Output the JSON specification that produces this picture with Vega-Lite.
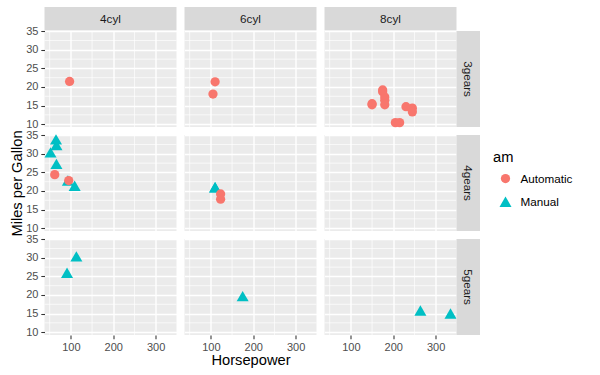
{
  "$schema": "https://vega.github.io/schema/vega-lite/v6.json",
  "padding": {"left": 8.5, "top": 7, "right": 5, "bottom": 5},
  "background": "white",
  "datasets": {
    "cars": [
      {"name": "Mazda RX4", "hp": 110, "mpg": 21.0, "cyl": 6, "gear": 4, "am": "Manual"},
      {"name": "Mazda RX4 Wag", "hp": 110, "mpg": 21.0, "cyl": 6, "gear": 4, "am": "Manual"},
      {"name": "Datsun 710", "hp": 93, "mpg": 22.8, "cyl": 4, "gear": 4, "am": "Manual"},
      {"name": "Hornet 4 Drive", "hp": 110, "mpg": 21.4, "cyl": 6, "gear": 3, "am": "Automatic"},
      {"name": "Hornet Sportabout", "hp": 175, "mpg": 18.7, "cyl": 8, "gear": 3, "am": "Automatic"},
      {"name": "Valiant", "hp": 105, "mpg": 18.1, "cyl": 6, "gear": 3, "am": "Automatic"},
      {"name": "Duster 360", "hp": 245, "mpg": 14.3, "cyl": 8, "gear": 3, "am": "Automatic"},
      {"name": "Merc 240D", "hp": 62, "mpg": 24.4, "cyl": 4, "gear": 4, "am": "Automatic"},
      {"name": "Merc 230", "hp": 95, "mpg": 22.8, "cyl": 4, "gear": 4, "am": "Automatic"},
      {"name": "Merc 280", "hp": 123, "mpg": 19.2, "cyl": 6, "gear": 4, "am": "Automatic"},
      {"name": "Merc 280C", "hp": 123, "mpg": 17.8, "cyl": 6, "gear": 4, "am": "Automatic"},
      {"name": "Merc 450SE", "hp": 180, "mpg": 16.4, "cyl": 8, "gear": 3, "am": "Automatic"},
      {"name": "Merc 450SL", "hp": 180, "mpg": 17.3, "cyl": 8, "gear": 3, "am": "Automatic"},
      {"name": "Merc 450SLC", "hp": 180, "mpg": 15.2, "cyl": 8, "gear": 3, "am": "Automatic"},
      {"name": "Cadillac Fleetwood", "hp": 205, "mpg": 10.4, "cyl": 8, "gear": 3, "am": "Automatic"},
      {"name": "Lincoln Continental", "hp": 215, "mpg": 10.4, "cyl": 8, "gear": 3, "am": "Automatic"},
      {"name": "Chrysler Imperial", "hp": 230, "mpg": 14.7, "cyl": 8, "gear": 3, "am": "Automatic"},
      {"name": "Fiat 128", "hp": 66, "mpg": 32.4, "cyl": 4, "gear": 4, "am": "Manual"},
      {"name": "Honda Civic", "hp": 52, "mpg": 30.4, "cyl": 4, "gear": 4, "am": "Manual"},
      {"name": "Toyota Corolla", "hp": 65, "mpg": 33.9, "cyl": 4, "gear": 4, "am": "Manual"},
      {"name": "Toyota Corona", "hp": 97, "mpg": 21.5, "cyl": 4, "gear": 3, "am": "Automatic"},
      {"name": "Dodge Challenger", "hp": 150, "mpg": 15.5, "cyl": 8, "gear": 3, "am": "Automatic"},
      {"name": "AMC Javelin", "hp": 150, "mpg": 15.2, "cyl": 8, "gear": 3, "am": "Automatic"},
      {"name": "Camaro Z28", "hp": 245, "mpg": 13.3, "cyl": 8, "gear": 3, "am": "Automatic"},
      {"name": "Pontiac Firebird", "hp": 175, "mpg": 19.2, "cyl": 8, "gear": 3, "am": "Automatic"},
      {"name": "Fiat X1-9", "hp": 66, "mpg": 27.3, "cyl": 4, "gear": 4, "am": "Manual"},
      {"name": "Porsche 914-2", "hp": 91, "mpg": 26.0, "cyl": 4, "gear": 5, "am": "Manual"},
      {"name": "Lotus Europa", "hp": 113, "mpg": 30.4, "cyl": 4, "gear": 5, "am": "Manual"},
      {"name": "Ford Pantera L", "hp": 264, "mpg": 15.8, "cyl": 8, "gear": 5, "am": "Manual"},
      {"name": "Ferrari Dino", "hp": 175, "mpg": 19.7, "cyl": 6, "gear": 5, "am": "Manual"},
      {"name": "Maserati Bora", "hp": 335, "mpg": 15.0, "cyl": 8, "gear": 5, "am": "Manual"},
      {"name": "Volvo 142E", "hp": 109, "mpg": 21.4, "cyl": 4, "gear": 4, "am": "Manual"}
    ],
    "xminor": [{"hp": 50}, {"hp": 150}, {"hp": 250}],
    "yminor": [{"mpg": 12.5}, {"mpg": 17.5}, {"mpg": 22.5}, {"mpg": 27.5}, {"mpg": 32.5}]
  },
  "columns": 6,
  "spacing": 0,
  "align": "each",
  "bounds": "flush",
  "concat": [
    {"width": 132, "height": 23.5, "data": {"values": [{"lab": "4cyl"}]}, "mark": {"type": "text", "fontSize": 11.7, "color": "#1A1A1A", "baseline": "middle", "align": "center"}, "encoding": {"text": {"field": "lab"}}, "view": {"fill": "#D9D9D9"}},
    {"width": 7.33, "height": 1, "data": {"values": []}, "mark": "point", "view": {"fill": "transparent"}},
    {"width": 132, "height": 23.5, "data": {"values": [{"lab": "6cyl"}]}, "mark": {"type": "text", "fontSize": 11.7, "color": "#1A1A1A", "baseline": "middle", "align": "center"}, "encoding": {"text": {"field": "lab"}}, "view": {"fill": "#D9D9D9"}},
    {"width": 7.33, "height": 1, "data": {"values": []}, "mark": "point", "view": {"fill": "transparent"}},
    {"width": 132, "height": 23.5, "data": {"values": [{"lab": "8cyl"}]}, "mark": {"type": "text", "fontSize": 11.7, "color": "#1A1A1A", "baseline": "middle", "align": "center"}, "encoding": {"text": {"field": "lab"}}, "view": {"fill": "#D9D9D9"}},
    {"width": 1, "height": 1, "data": {"values": []}, "mark": "point", "view": {"fill": "transparent"}},

    {"width": 132, "height": 96, "layer": [
      {"data": {"name": "xminor"}, "mark": {"type": "rule", "color": "white", "strokeWidth": 0.7}, "encoding": {"x": {"field": "hp", "type": "quantitative", "scale": {"domain": [37.85, 349.15], "nice": false, "zero": false}, "axis": {"values": [100, 200, 300], "labels": false, "ticks": false, "title": null}}}},
      {"data": {"name": "yminor"}, "mark": {"type": "rule", "color": "white", "strokeWidth": 0.7}, "encoding": {"y": {"field": "mpg", "type": "quantitative", "scale": {"domain": [9.225, 35.075], "nice": false, "zero": false}, "axis": {"values": [10, 15, 20, 25, 30, 35], "title": null}}}},
      {"data": {"name": "cars"}, "transform": [{"filter": "datum.cyl == 4 && datum.gear == 3"}], "mark": {"type": "point", "filled": true, "opacity": 1}, "encoding": {
        "x": {"field": "hp", "type": "quantitative", "scale": {"domain": [37.85, 349.15], "nice": false, "zero": false}, "axis": {"values": [100, 200, 300], "labels": false, "ticks": false, "title": null}},
        "y": {"field": "mpg", "type": "quantitative", "scale": {"domain": [9.225, 35.075], "nice": false, "zero": false}, "axis": {"values": [10, 15, 20, 25, 30, 35], "title": null}},
        "color": {"field": "am", "type": "nominal", "title": "am", "scale": {"domain": ["Automatic", "Manual"], "range": ["#F8766D", "#00BFC4"]}, "legend": {"orient": "none", "legendX": 448.5, "legendY": 143, "symbolOffset": 5.5, "labelOffset": 8, "rowPadding": 9, "titlePadding": 8}},
        "shape": {"field": "am", "type": "nominal", "title": "am", "scale": {"domain": ["Automatic", "Manual"], "range": ["circle", "triangle-up"]}, "legend": {"orient": "none", "legendX": 448.5, "legendY": 143, "symbolOffset": 5.5, "labelOffset": 8, "rowPadding": 9, "titlePadding": 8}},
        "size": {"field": "am", "type": "nominal", "title": "am", "scale": {"domain": ["Automatic", "Manual"], "range": [86, 145]}, "legend": {"orient": "none", "legendX": 448.5, "legendY": 143, "symbolOffset": 5.5, "labelOffset": 8, "rowPadding": 9, "titlePadding": 8}}
      }}
    ]},
    {"width": 7.33, "height": 1, "data": {"values": []}, "mark": "point", "view": {"fill": "transparent"}},
    {"width": 132, "height": 96, "layer": [
      {"data": {"name": "xminor"}, "mark": {"type": "rule", "color": "white", "strokeWidth": 0.7}, "encoding": {"x": {"field": "hp", "type": "quantitative", "scale": {"domain": [37.85, 349.15], "nice": false, "zero": false}, "axis": {"values": [100, 200, 300], "labels": false, "ticks": false, "title": null}}}},
      {"data": {"name": "yminor"}, "mark": {"type": "rule", "color": "white", "strokeWidth": 0.7}, "encoding": {"y": {"field": "mpg", "type": "quantitative", "scale": {"domain": [9.225, 35.075], "nice": false, "zero": false}, "axis": {"values": [10, 15, 20, 25, 30, 35], "labels": false, "ticks": false, "title": null}}}},
      {"data": {"name": "cars"}, "transform": [{"filter": "datum.cyl == 6 && datum.gear == 3"}], "mark": {"type": "point", "filled": true, "opacity": 1}, "encoding": {
        "x": {"field": "hp", "type": "quantitative", "scale": {"domain": [37.85, 349.15], "nice": false, "zero": false}, "axis": {"values": [100, 200, 300], "labels": false, "ticks": false, "title": null}},
        "y": {"field": "mpg", "type": "quantitative", "scale": {"domain": [9.225, 35.075], "nice": false, "zero": false}, "axis": {"values": [10, 15, 20, 25, 30, 35], "labels": false, "ticks": false, "title": null}},
        "color": {"field": "am", "type": "nominal", "title": "am", "scale": {"domain": ["Automatic", "Manual"], "range": ["#F8766D", "#00BFC4"]}, "legend": {"orient": "none", "legendX": 448.5, "legendY": 143, "symbolOffset": 5.5, "labelOffset": 8, "rowPadding": 9, "titlePadding": 8}},
        "shape": {"field": "am", "type": "nominal", "title": "am", "scale": {"domain": ["Automatic", "Manual"], "range": ["circle", "triangle-up"]}, "legend": {"orient": "none", "legendX": 448.5, "legendY": 143, "symbolOffset": 5.5, "labelOffset": 8, "rowPadding": 9, "titlePadding": 8}},
        "size": {"field": "am", "type": "nominal", "title": "am", "scale": {"domain": ["Automatic", "Manual"], "range": [86, 145]}, "legend": {"orient": "none", "legendX": 448.5, "legendY": 143, "symbolOffset": 5.5, "labelOffset": 8, "rowPadding": 9, "titlePadding": 8}}
      }}
    ]},
    {"width": 7.33, "height": 1, "data": {"values": []}, "mark": "point", "view": {"fill": "transparent"}},
    {"width": 132, "height": 96, "layer": [
      {"data": {"name": "xminor"}, "mark": {"type": "rule", "color": "white", "strokeWidth": 0.7}, "encoding": {"x": {"field": "hp", "type": "quantitative", "scale": {"domain": [37.85, 349.15], "nice": false, "zero": false}, "axis": {"values": [100, 200, 300], "labels": false, "ticks": false, "title": null}}}},
      {"data": {"name": "yminor"}, "mark": {"type": "rule", "color": "white", "strokeWidth": 0.7}, "encoding": {"y": {"field": "mpg", "type": "quantitative", "scale": {"domain": [9.225, 35.075], "nice": false, "zero": false}, "axis": {"values": [10, 15, 20, 25, 30, 35], "labels": false, "ticks": false, "title": null}}}},
      {"data": {"name": "cars"}, "transform": [{"filter": "datum.cyl == 8 && datum.gear == 3"}], "mark": {"type": "point", "filled": true, "opacity": 1}, "encoding": {
        "x": {"field": "hp", "type": "quantitative", "scale": {"domain": [37.85, 349.15], "nice": false, "zero": false}, "axis": {"values": [100, 200, 300], "labels": false, "ticks": false, "title": null}},
        "y": {"field": "mpg", "type": "quantitative", "scale": {"domain": [9.225, 35.075], "nice": false, "zero": false}, "axis": {"values": [10, 15, 20, 25, 30, 35], "labels": false, "ticks": false, "title": null}},
        "color": {"field": "am", "type": "nominal", "title": "am", "scale": {"domain": ["Automatic", "Manual"], "range": ["#F8766D", "#00BFC4"]}, "legend": {"orient": "none", "legendX": 448.5, "legendY": 143, "symbolOffset": 5.5, "labelOffset": 8, "rowPadding": 9, "titlePadding": 8}},
        "shape": {"field": "am", "type": "nominal", "title": "am", "scale": {"domain": ["Automatic", "Manual"], "range": ["circle", "triangle-up"]}, "legend": {"orient": "none", "legendX": 448.5, "legendY": 143, "symbolOffset": 5.5, "labelOffset": 8, "rowPadding": 9, "titlePadding": 8}},
        "size": {"field": "am", "type": "nominal", "title": "am", "scale": {"domain": ["Automatic", "Manual"], "range": [86, 145]}, "legend": {"orient": "none", "legendX": 448.5, "legendY": 143, "symbolOffset": 5.5, "labelOffset": 8, "rowPadding": 9, "titlePadding": 8}}
      }}
    ]},
    {"width": 23.5, "height": 96, "data": {"values": [{"lab": "3gears"}]}, "mark": {"type": "text", "fontSize": 11.7, "color": "#1A1A1A", "baseline": "middle", "align": "center", "angle": 90}, "encoding": {"text": {"field": "lab"}}, "view": {"fill": "#D9D9D9"}},

    {"width": 1, "height": 7.33, "data": {"values": []}, "mark": "point", "view": {"fill": "transparent"}},
    {"width": 1, "height": 7.33, "data": {"values": []}, "mark": "point", "view": {"fill": "transparent"}},
    {"width": 1, "height": 7.33, "data": {"values": []}, "mark": "point", "view": {"fill": "transparent"}},
    {"width": 1, "height": 7.33, "data": {"values": []}, "mark": "point", "view": {"fill": "transparent"}},
    {"width": 1, "height": 7.33, "data": {"values": []}, "mark": "point", "view": {"fill": "transparent"}},
    {"width": 1, "height": 7.33, "data": {"values": []}, "mark": "point", "view": {"fill": "transparent"}},

    {"width": 132, "height": 96, "layer": [
      {"data": {"name": "xminor"}, "mark": {"type": "rule", "color": "white", "strokeWidth": 0.7}, "encoding": {"x": {"field": "hp", "type": "quantitative", "scale": {"domain": [37.85, 349.15], "nice": false, "zero": false}, "axis": {"values": [100, 200, 300], "labels": false, "ticks": false, "title": null}}}},
      {"data": {"name": "yminor"}, "mark": {"type": "rule", "color": "white", "strokeWidth": 0.7}, "encoding": {"y": {"field": "mpg", "type": "quantitative", "scale": {"domain": [9.225, 35.075], "nice": false, "zero": false}, "axis": {"values": [10, 15, 20, 25, 30, 35], "title": "Miles per Gallon", "titlePadding": 1.2}}}},
      {"data": {"name": "cars"}, "transform": [{"filter": "datum.cyl == 4 && datum.gear == 4"}], "mark": {"type": "point", "filled": true, "opacity": 1}, "encoding": {
        "x": {"field": "hp", "type": "quantitative", "scale": {"domain": [37.85, 349.15], "nice": false, "zero": false}, "axis": {"values": [100, 200, 300], "labels": false, "ticks": false, "title": null}},
        "y": {"field": "mpg", "type": "quantitative", "scale": {"domain": [9.225, 35.075], "nice": false, "zero": false}, "axis": {"values": [10, 15, 20, 25, 30, 35], "title": "Miles per Gallon", "titlePadding": 1.2}},
        "color": {"field": "am", "type": "nominal", "title": "am", "scale": {"domain": ["Automatic", "Manual"], "range": ["#F8766D", "#00BFC4"]}, "legend": {"orient": "none", "legendX": 448.5, "legendY": 143, "symbolOffset": 5.5, "labelOffset": 8, "rowPadding": 9, "titlePadding": 8}},
        "shape": {"field": "am", "type": "nominal", "title": "am", "scale": {"domain": ["Automatic", "Manual"], "range": ["circle", "triangle-up"]}, "legend": {"orient": "none", "legendX": 448.5, "legendY": 143, "symbolOffset": 5.5, "labelOffset": 8, "rowPadding": 9, "titlePadding": 8}},
        "size": {"field": "am", "type": "nominal", "title": "am", "scale": {"domain": ["Automatic", "Manual"], "range": [86, 145]}, "legend": {"orient": "none", "legendX": 448.5, "legendY": 143, "symbolOffset": 5.5, "labelOffset": 8, "rowPadding": 9, "titlePadding": 8}}
      }}
    ]},
    {"width": 7.33, "height": 1, "data": {"values": []}, "mark": "point", "view": {"fill": "transparent"}},
    {"width": 132, "height": 96, "layer": [
      {"data": {"name": "xminor"}, "mark": {"type": "rule", "color": "white", "strokeWidth": 0.7}, "encoding": {"x": {"field": "hp", "type": "quantitative", "scale": {"domain": [37.85, 349.15], "nice": false, "zero": false}, "axis": {"values": [100, 200, 300], "labels": false, "ticks": false, "title": null}}}},
      {"data": {"name": "yminor"}, "mark": {"type": "rule", "color": "white", "strokeWidth": 0.7}, "encoding": {"y": {"field": "mpg", "type": "quantitative", "scale": {"domain": [9.225, 35.075], "nice": false, "zero": false}, "axis": {"values": [10, 15, 20, 25, 30, 35], "labels": false, "ticks": false, "title": null}}}},
      {"data": {"name": "cars"}, "transform": [{"filter": "datum.cyl == 6 && datum.gear == 4"}], "mark": {"type": "point", "filled": true, "opacity": 1}, "encoding": {
        "x": {"field": "hp", "type": "quantitative", "scale": {"domain": [37.85, 349.15], "nice": false, "zero": false}, "axis": {"values": [100, 200, 300], "labels": false, "ticks": false, "title": null}},
        "y": {"field": "mpg", "type": "quantitative", "scale": {"domain": [9.225, 35.075], "nice": false, "zero": false}, "axis": {"values": [10, 15, 20, 25, 30, 35], "labels": false, "ticks": false, "title": null}},
        "color": {"field": "am", "type": "nominal", "title": "am", "scale": {"domain": ["Automatic", "Manual"], "range": ["#F8766D", "#00BFC4"]}, "legend": {"orient": "none", "legendX": 448.5, "legendY": 143, "symbolOffset": 5.5, "labelOffset": 8, "rowPadding": 9, "titlePadding": 8}},
        "shape": {"field": "am", "type": "nominal", "title": "am", "scale": {"domain": ["Automatic", "Manual"], "range": ["circle", "triangle-up"]}, "legend": {"orient": "none", "legendX": 448.5, "legendY": 143, "symbolOffset": 5.5, "labelOffset": 8, "rowPadding": 9, "titlePadding": 8}},
        "size": {"field": "am", "type": "nominal", "title": "am", "scale": {"domain": ["Automatic", "Manual"], "range": [86, 145]}, "legend": {"orient": "none", "legendX": 448.5, "legendY": 143, "symbolOffset": 5.5, "labelOffset": 8, "rowPadding": 9, "titlePadding": 8}}
      }}
    ]},
    {"width": 7.33, "height": 1, "data": {"values": []}, "mark": "point", "view": {"fill": "transparent"}},
    {"width": 132, "height": 96, "layer": [
      {"data": {"name": "xminor"}, "mark": {"type": "rule", "color": "white", "strokeWidth": 0.7}, "encoding": {"x": {"field": "hp", "type": "quantitative", "scale": {"domain": [37.85, 349.15], "nice": false, "zero": false}, "axis": {"values": [100, 200, 300], "labels": false, "ticks": false, "title": null}}}},
      {"data": {"name": "yminor"}, "mark": {"type": "rule", "color": "white", "strokeWidth": 0.7}, "encoding": {"y": {"field": "mpg", "type": "quantitative", "scale": {"domain": [9.225, 35.075], "nice": false, "zero": false}, "axis": {"values": [10, 15, 20, 25, 30, 35], "labels": false, "ticks": false, "title": null}}}},
      {"data": {"name": "cars"}, "transform": [{"filter": "datum.cyl == 8 && datum.gear == 4"}], "mark": {"type": "point", "filled": true, "opacity": 1}, "encoding": {
        "x": {"field": "hp", "type": "quantitative", "scale": {"domain": [37.85, 349.15], "nice": false, "zero": false}, "axis": {"values": [100, 200, 300], "labels": false, "ticks": false, "title": null}},
        "y": {"field": "mpg", "type": "quantitative", "scale": {"domain": [9.225, 35.075], "nice": false, "zero": false}, "axis": {"values": [10, 15, 20, 25, 30, 35], "labels": false, "ticks": false, "title": null}},
        "color": {"field": "am", "type": "nominal", "title": "am", "scale": {"domain": ["Automatic", "Manual"], "range": ["#F8766D", "#00BFC4"]}, "legend": {"orient": "none", "legendX": 448.5, "legendY": 143, "symbolOffset": 5.5, "labelOffset": 8, "rowPadding": 9, "titlePadding": 8}},
        "shape": {"field": "am", "type": "nominal", "title": "am", "scale": {"domain": ["Automatic", "Manual"], "range": ["circle", "triangle-up"]}, "legend": {"orient": "none", "legendX": 448.5, "legendY": 143, "symbolOffset": 5.5, "labelOffset": 8, "rowPadding": 9, "titlePadding": 8}},
        "size": {"field": "am", "type": "nominal", "title": "am", "scale": {"domain": ["Automatic", "Manual"], "range": [86, 145]}, "legend": {"orient": "none", "legendX": 448.5, "legendY": 143, "symbolOffset": 5.5, "labelOffset": 8, "rowPadding": 9, "titlePadding": 8}}
      }}
    ]},
    {"width": 23.5, "height": 96, "data": {"values": [{"lab": "4gears"}]}, "mark": {"type": "text", "fontSize": 11.7, "color": "#1A1A1A", "baseline": "middle", "align": "center", "angle": 90}, "encoding": {"text": {"field": "lab"}}, "view": {"fill": "#D9D9D9"}},

    {"width": 1, "height": 7.33, "data": {"values": []}, "mark": "point", "view": {"fill": "transparent"}},
    {"width": 1, "height": 7.33, "data": {"values": []}, "mark": "point", "view": {"fill": "transparent"}},
    {"width": 1, "height": 7.33, "data": {"values": []}, "mark": "point", "view": {"fill": "transparent"}},
    {"width": 1, "height": 7.33, "data": {"values": []}, "mark": "point", "view": {"fill": "transparent"}},
    {"width": 1, "height": 7.33, "data": {"values": []}, "mark": "point", "view": {"fill": "transparent"}},
    {"width": 1, "height": 7.33, "data": {"values": []}, "mark": "point", "view": {"fill": "transparent"}},

    {"width": 132, "height": 96, "layer": [
      {"data": {"name": "xminor"}, "mark": {"type": "rule", "color": "white", "strokeWidth": 0.7}, "encoding": {"x": {"field": "hp", "type": "quantitative", "scale": {"domain": [37.85, 349.15], "nice": false, "zero": false}, "axis": {"values": [100, 200, 300], "title": null}}}},
      {"data": {"name": "yminor"}, "mark": {"type": "rule", "color": "white", "strokeWidth": 0.7}, "encoding": {"y": {"field": "mpg", "type": "quantitative", "scale": {"domain": [9.225, 35.075], "nice": false, "zero": false}, "axis": {"values": [10, 15, 20, 25, 30, 35], "title": null}}}},
      {"data": {"name": "cars"}, "transform": [{"filter": "datum.cyl == 4 && datum.gear == 5"}], "mark": {"type": "point", "filled": true, "opacity": 1}, "encoding": {
        "x": {"field": "hp", "type": "quantitative", "scale": {"domain": [37.85, 349.15], "nice": false, "zero": false}, "axis": {"values": [100, 200, 300], "title": null}},
        "y": {"field": "mpg", "type": "quantitative", "scale": {"domain": [9.225, 35.075], "nice": false, "zero": false}, "axis": {"values": [10, 15, 20, 25, 30, 35], "title": null}},
        "color": {"field": "am", "type": "nominal", "title": "am", "scale": {"domain": ["Automatic", "Manual"], "range": ["#F8766D", "#00BFC4"]}, "legend": {"orient": "none", "legendX": 448.5, "legendY": 143, "symbolOffset": 5.5, "labelOffset": 8, "rowPadding": 9, "titlePadding": 8}},
        "shape": {"field": "am", "type": "nominal", "title": "am", "scale": {"domain": ["Automatic", "Manual"], "range": ["circle", "triangle-up"]}, "legend": {"orient": "none", "legendX": 448.5, "legendY": 143, "symbolOffset": 5.5, "labelOffset": 8, "rowPadding": 9, "titlePadding": 8}},
        "size": {"field": "am", "type": "nominal", "title": "am", "scale": {"domain": ["Automatic", "Manual"], "range": [86, 145]}, "legend": {"orient": "none", "legendX": 448.5, "legendY": 143, "symbolOffset": 5.5, "labelOffset": 8, "rowPadding": 9, "titlePadding": 8}}
      }}
    ]},
    {"width": 7.33, "height": 1, "data": {"values": []}, "mark": "point", "view": {"fill": "transparent"}},
    {"width": 132, "height": 96, "layer": [
      {"data": {"name": "xminor"}, "mark": {"type": "rule", "color": "white", "strokeWidth": 0.7}, "encoding": {"x": {"field": "hp", "type": "quantitative", "scale": {"domain": [37.85, 349.15], "nice": false, "zero": false}, "axis": {"values": [100, 200, 300], "title": "Horsepower", "titlePadding": 0}}}},
      {"data": {"name": "yminor"}, "mark": {"type": "rule", "color": "white", "strokeWidth": 0.7}, "encoding": {"y": {"field": "mpg", "type": "quantitative", "scale": {"domain": [9.225, 35.075], "nice": false, "zero": false}, "axis": {"values": [10, 15, 20, 25, 30, 35], "labels": false, "ticks": false, "title": null}}}},
      {"data": {"name": "cars"}, "transform": [{"filter": "datum.cyl == 6 && datum.gear == 5"}], "mark": {"type": "point", "filled": true, "opacity": 1}, "encoding": {
        "x": {"field": "hp", "type": "quantitative", "scale": {"domain": [37.85, 349.15], "nice": false, "zero": false}, "axis": {"values": [100, 200, 300], "title": "Horsepower", "titlePadding": 0}},
        "y": {"field": "mpg", "type": "quantitative", "scale": {"domain": [9.225, 35.075], "nice": false, "zero": false}, "axis": {"values": [10, 15, 20, 25, 30, 35], "labels": false, "ticks": false, "title": null}},
        "color": {"field": "am", "type": "nominal", "title": "am", "scale": {"domain": ["Automatic", "Manual"], "range": ["#F8766D", "#00BFC4"]}, "legend": {"orient": "none", "legendX": 448.5, "legendY": 143, "symbolOffset": 5.5, "labelOffset": 8, "rowPadding": 9, "titlePadding": 8}},
        "shape": {"field": "am", "type": "nominal", "title": "am", "scale": {"domain": ["Automatic", "Manual"], "range": ["circle", "triangle-up"]}, "legend": {"orient": "none", "legendX": 448.5, "legendY": 143, "symbolOffset": 5.5, "labelOffset": 8, "rowPadding": 9, "titlePadding": 8}},
        "size": {"field": "am", "type": "nominal", "title": "am", "scale": {"domain": ["Automatic", "Manual"], "range": [86, 145]}, "legend": {"orient": "none", "legendX": 448.5, "legendY": 143, "symbolOffset": 5.5, "labelOffset": 8, "rowPadding": 9, "titlePadding": 8}}
      }}
    ]},
    {"width": 7.33, "height": 1, "data": {"values": []}, "mark": "point", "view": {"fill": "transparent"}},
    {"width": 132, "height": 96, "layer": [
      {"data": {"name": "xminor"}, "mark": {"type": "rule", "color": "white", "strokeWidth": 0.7}, "encoding": {"x": {"field": "hp", "type": "quantitative", "scale": {"domain": [37.85, 349.15], "nice": false, "zero": false}, "axis": {"values": [100, 200, 300], "title": null}}}},
      {"data": {"name": "yminor"}, "mark": {"type": "rule", "color": "white", "strokeWidth": 0.7}, "encoding": {"y": {"field": "mpg", "type": "quantitative", "scale": {"domain": [9.225, 35.075], "nice": false, "zero": false}, "axis": {"values": [10, 15, 20, 25, 30, 35], "labels": false, "ticks": false, "title": null}}}},
      {"data": {"name": "cars"}, "transform": [{"filter": "datum.cyl == 8 && datum.gear == 5"}], "mark": {"type": "point", "filled": true, "opacity": 1}, "encoding": {
        "x": {"field": "hp", "type": "quantitative", "scale": {"domain": [37.85, 349.15], "nice": false, "zero": false}, "axis": {"values": [100, 200, 300], "title": null}},
        "y": {"field": "mpg", "type": "quantitative", "scale": {"domain": [9.225, 35.075], "nice": false, "zero": false}, "axis": {"values": [10, 15, 20, 25, 30, 35], "labels": false, "ticks": false, "title": null}},
        "color": {"field": "am", "type": "nominal", "title": "am", "scale": {"domain": ["Automatic", "Manual"], "range": ["#F8766D", "#00BFC4"]}, "legend": {"orient": "none", "legendX": 448.5, "legendY": 143, "symbolOffset": 5.5, "labelOffset": 8, "rowPadding": 9, "titlePadding": 8}},
        "shape": {"field": "am", "type": "nominal", "title": "am", "scale": {"domain": ["Automatic", "Manual"], "range": ["circle", "triangle-up"]}, "legend": {"orient": "none", "legendX": 448.5, "legendY": 143, "symbolOffset": 5.5, "labelOffset": 8, "rowPadding": 9, "titlePadding": 8}},
        "size": {"field": "am", "type": "nominal", "title": "am", "scale": {"domain": ["Automatic", "Manual"], "range": [86, 145]}, "legend": {"orient": "none", "legendX": 448.5, "legendY": 143, "symbolOffset": 5.5, "labelOffset": 8, "rowPadding": 9, "titlePadding": 8}}
      }}
    ]},
    {"width": 23.5, "height": 96, "data": {"values": [{"lab": "5gears"}]}, "mark": {"type": "text", "fontSize": 11.7, "color": "#1A1A1A", "baseline": "middle", "align": "center", "angle": 90}, "encoding": {"text": {"field": "lab"}}, "view": {"fill": "#D9D9D9"}}
  ],
  "config": {
    "font": "Liberation Sans",
    "view": {"stroke": null, "fill": "#EBEBEB"},
    "axis": {
      "domain": false,
      "grid": true,
      "gridColor": "white",
      "gridWidth": 1.4,
      "gridOpacity": 1,
      "tickColor": "#333333",
      "tickSize": 3.7,
      "tickWidth": 1.07,
      "labelColor": "#4D4D4D",
      "labelFont": "Liberation Sans",
      "labelFontSize": 11,
      "labelPadding": 2.9,
      "labelOverlap": false,
      "labelBound": false,
      "titleFont": "Liberation Sans",
      "titleFontSize": 14.7,
      "titleFontWeight": "normal",
      "titleColor": "black",
      "titlePadding": 3.7
    },
    "legend": {
      "titleFont": "Liberation Sans",
      "titleFontSize": 14.7,
      "titleFontWeight": "normal",
      "titleColor": "black",
      "labelFont": "Liberation Sans",
      "labelFontSize": 11.7,
      "labelColor": "black"
    }
  }
}
